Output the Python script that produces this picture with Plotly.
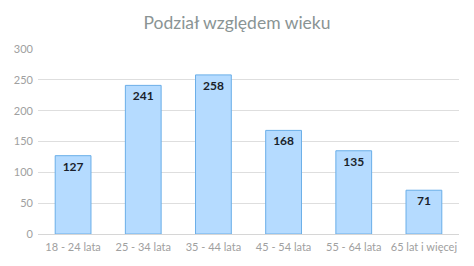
import plotly.graph_objects as go

categories = ["18 - 24 lata", "25 - 34 lata", "35 - 44 lata", "45 - 54 lata", "55 - 64 lata", "65 lat i więcej"]
values = [127, 241, 258, 168, 135, 71]
y_ticks = [0, 50, 100, 150, 200, 250, 300]

fig = go.Figure()
fig.add_trace(go.Bar(
    x=categories, y=values,
    marker=dict(color="#b5dbff", line=dict(color="#6aaee8", width=1)),
    text=[str(v) for v in values],
    textposition="inside", insidetextanchor="end",
    textfont=dict(family="Lato, Open Sans, sans-serif", size=12, color="#1a1f2b", weight="bold"),
    width=0.51,
))

fig.update_layout(
    width=474, height=266,
    margin=dict(l=38, r=15, t=49, b=32),
    paper_bgcolor="white", plot_bgcolor="white",
    title=dict(text="Podział względem wieku", x=0.5, xanchor="center", y=0.915, yanchor="middle",
               font=dict(family="Lato, Open Sans, sans-serif", size=17.5, color="#8a9494")),
    showlegend=False,
    font=dict(family="Lato, Open Sans, sans-serif", size=11, color="#a0a0a0"),
)
fig.update_yaxes(range=[0, 300], tickvals=y_ticks, showgrid=True, gridcolor="#dedede", gridwidth=1,
                 zeroline=True, zerolinecolor="#d6d6d6", zerolinewidth=1,
                 tickfont=dict(size=11, color="#a0a0a0"), ticks="", ticklen=0, ticklabelstandoff=4)
fig.update_xaxes(showgrid=False, tickfont=dict(size=11, color="#a0a0a0"), ticks="", ticklabelstandoff=5)

fig.write_html("out.html")
